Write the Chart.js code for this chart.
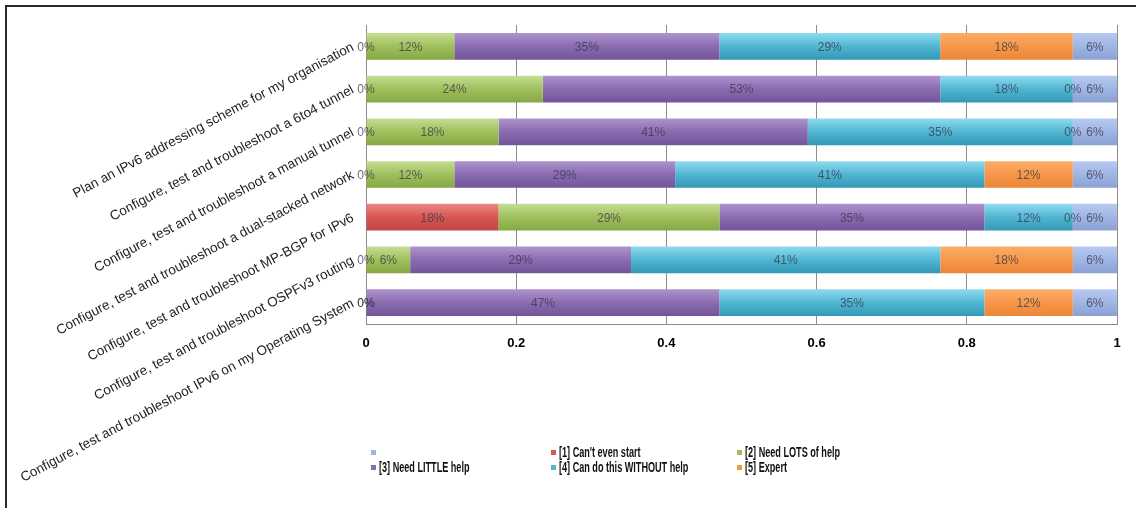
<!DOCTYPE html>
<html>
<head>
<meta charset="utf-8">
<title>IPv6 skills self-assessment</title>
<script src="https://cdn.jsdelivr.net/npm/chart.js@4"></script>
<style>
    html, body { margin: 0; padding: 0; background: #fff; }
    #wrap { position: relative; width: 1136px; height: 508px; }
</style>
</head>
<body>
<div id="wrap"><canvas id="skills-chart" width="1136" height="508"></canvas></div>
<script>
// ==================== DATA ====================
const tasks = [
    'Plan an IPv6 addressing scheme for my organisation',
    'Configure, test and troubleshoot a 6to4 tunnel',
    'Configure, test and troubleshoot a manual tunnel',
    'Configure, test and troubleshoot a dual-stacked network',
    'Configure, test and troubleshoot MP-BGP for IPv6',
    'Configure, test and troubleshoot OSPFv3 routing',
    'Configure, test and troubleshoot IPv6 on my Operating System'
];
const levelNames = ["[1] Can't even start", '[2] Need LOTS of help', '[3] Need LITTLE help', '[4] Can do this WITHOUT help', '[5] Expert', ''];

// share of answers per task (%)
const cantStart   = [0, 0, 0, 0, 17.65, 0, 0];
const lotsOfHelp  = [11.76, 23.53, 17.65, 11.76, 29.41, 5.88, 0];
const littleHelp  = [35.29, 52.94, 41.18, 29.41, 35.29, 29.41, 47.06];
const withoutHelp = [29.41, 17.65, 35.29, 41.18, 11.76, 41.18, 35.29];
const expert      = [17.65, 0, 0, 11.76, 0, 17.65, 11.76];
const noAnswer    = [5.88, 5.88, 5.88, 5.88, 5.88, 5.88, 5.88];

const xTicks = [0, 0.2, 0.4, 0.6, 0.8, 1];

// ==================== STYLE ====================
// top / middle / bottom shade of each bar colour
const shades = [
    ['#ea8985', '#d65651', '#be4744'],
    ['#c4dd92', '#9fc05c', '#86a845'],
    ['#ad94cc', '#8a6bb0', '#73569a'],
    ['#8cdaf0', '#52b6d2', '#3399b6'],
    ['#fbac68', '#f7974a', '#ec8638'],
    ['#b7c9ef', '#9fb5e4', '#8aa1d4']
];
const legendOrder = [5, 0, 1, 2, 3, 4];
const legendCols = [371, 551, 737];
const legendRows = [452, 467];

function barFill(s) {
    return (c) => {
        const chart = c.chart;
        const yScale = chart.scales && chart.scales.y;
        if (!yScale || c.dataIndex === undefined || !chart.chartArea) return s[1];
        const py = yScale.getPixelForValue(c.dataIndex);
        const g = chart.ctx.createLinearGradient(0, py - 13, 0, py + 13);
        g.addColorStop(0, s[0]);
        g.addColorStop(0.5, s[1]);
        g.addColorStop(1, s[2]);
        return g;
    };
}

const series = [cantStart, lotsOfHelp, littleHelp, withoutHelp, expert, noAnswer];

// percentage text in the middle of every segment
const segmentLabels = {
    id: 'segmentLabels',
    afterDatasetsDraw(chart) {
        const ctx = chart.ctx;
        ctx.save();
        ctx.font = '12px "Liberation Sans", Arial, sans-serif';
        ctx.fillStyle = 'rgba(55,55,75,0.75)';
        ctx.textAlign = 'center';
        ctx.textBaseline = 'middle';
        chart.data.datasets.forEach((ds, i) => {
            chart.getDatasetMeta(i).data.forEach((bar, j) => {
                ctx.fillText(Math.round(ds.data[j]) + '%', (bar.x + bar.base) / 2, bar.y + 1);
            });
        });
        ctx.restore();
    }
};

// two-row legend under the axis + the frame
const gridLegend = {
    id: 'gridLegend',
    afterDraw(chart) {
        const ctx = chart.ctx;
        ctx.save();
        ctx.textBaseline = 'middle';
        legendOrder.forEach((di, k) => {
            const x = legendCols[k % 3];
            const y = legendRows[Math.floor(k / 3)];
            ctx.fillStyle = shades[di][1];
            ctx.fillRect(x, y - 2, 5, 5);
            // condensed face
            ctx.save();
            ctx.translate(x + 8, y + 1);
            ctx.scale(0.65, 1);
            ctx.font = 'bold 14px "Liberation Sans", Arial, sans-serif';
            ctx.fillStyle = '#111';
            ctx.fillText(levelNames[di], 0, 0);
            ctx.restore();
        });
        ctx.fillStyle = '#2b2b2b';
        ctx.fillRect(5, 5, chart.width - 5, 2);
        ctx.fillRect(5, 5, 2, chart.height - 5);
        ctx.restore();
    }
};

const chart = new Chart(document.getElementById('skills-chart'), {
    type: 'bar',
    data: {
        labels: tasks,
        datasets: series.map((d, i) => ({
            label: levelNames[i],
            data: d,
            backgroundColor: barFill(shades[i]),
            borderWidth: 0,
            categoryPercentage: 1,
            barPercentage: 0.625
        }))
    },
    options: {
        indexAxis: 'y',
        responsive: false,
        animation: false,
        layout: { padding: { top: 25, right: 19, left: 0, bottom: 0 } },
        plugins: { legend: { display: false }, tooltip: { enabled: false } },
        scales: {
            x: {
                stacked: true, min: 0, max: 100,
                afterBuildTicks: s => { s.ticks = xTicks.map(v => ({ value: v * 100 })); },
                afterFit: s => { s.height = 184; },
                grid: { color: '#8c8c8c', drawTicks: false },
                border: { display: true, color: '#8c8c8c' },
                ticks: {
                    padding: 12, color: '#000',
                    font: { family: '"Liberation Sans", Arial, sans-serif', size: 13, weight: 'bold' },
                    callback: v => String(v / 100)
                }
            },
            y: {
                stacked: true,
                afterFit: s => { s.width = 366; },
                grid: { display: false, drawTicks: false },
                border: { display: true, color: '#8c8c8c' },
                ticks: {
                    autoSkip: false, minRotation: 28, maxRotation: 28, padding: 13,
                    color: '#222',
                    font: { family: '"Liberation Sans", Arial, sans-serif', size: 13.5 }
                }
            }
        }
    },
    plugins: [segmentLabels, gridLegend]
});
</script>
</body>
</html>
